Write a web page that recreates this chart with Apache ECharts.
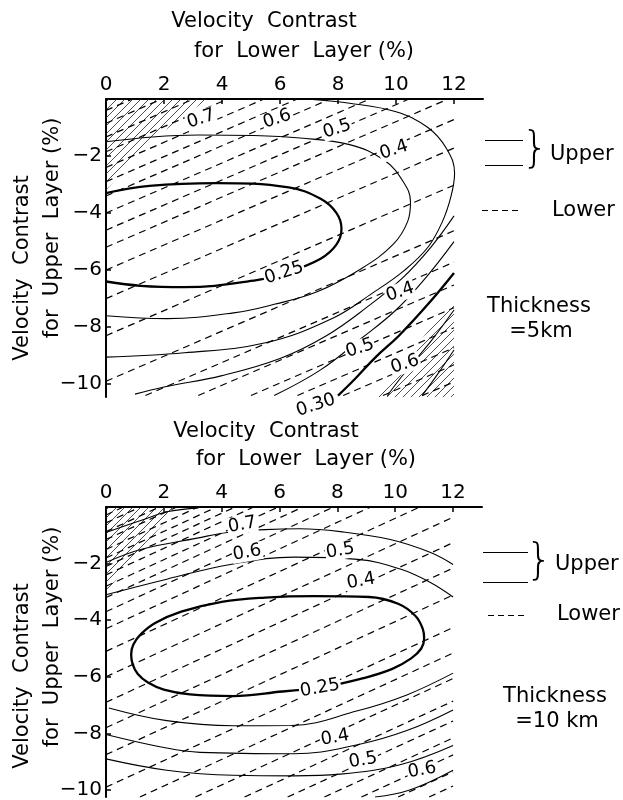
<!DOCTYPE html>
<html>
<head>
<meta charset="utf-8">
<script src="https://cdn.jsdelivr.net/npm/echarts@6/dist/echarts.min.js"></script>
<style>
  html, body { margin: 0; padding: 0; background: #fff; }
  #chart { width: 623px; height: 800px; }
</style>
</head>
<body>
<div id="chart"></div>
<script>
// tick labels
const xTicks = [0, 2, 4, 6, 8, 10, 12]
const yTicks = [-10, -8, -6, -4, -2]

// ---- thickness = 5 km ----
// upper layer contours (solid), thick one is 0.25
const upper5Thick = [[0, -3.3], [1.5, -3.05], [3.8, -2.95], [6.3, -3.1], [7.4, -3.5], [7.95, -4.0], [8.12, -4.55], [7.95, -5.1], [7.4, -5.6], [6.2, -6.1], [5.2, -6.35], [2.7, -6.6], [1.2, -6.55], [0, -6.4]]
const upper5Thick30 = [[12, -6.1], [11.1, -7.2], [10.1, -8.3], [9.3, -9.05], [8.6, -9.8], [8.0, -10.4]]
const upper5Thin = [
  [[0, -1.5], [1.6, -1.33], [3.2, -1.26], [5, -1.28], [6.7, -1.37], [8.4, -1.6], [9.6, -2.15], [10.25, -2.9], [10.5, -3.6], [10.4, -4.3], [9.9, -5.1], [8.8, -5.95], [7.3, -6.75], [5.8, -7.2], [4.4, -7.5], [2.1, -7.7], [0, -7.6]],
  [[6.9, 0], [8.4, -0.15], [10, -0.45], [11.1, -1.0], [11.75, -1.75], [12.02, -2.6], [11.9, -3.4], [11.6, -4.3], [11.1, -5.2], [10.3, -6.0], [9.2, -6.8], [7.8, -7.7], [5.5, -8.55], [2.7, -8.9], [0, -9.05]],
  [[12, -4.1], [11.2, -5.2], [10.2, -6.3], [9.0, -7.3], [7.6, -8.3], [6, -9.1], [4, -9.7], [2, -10.1], [1, -10.35]],
  [[12, -5.0], [11, -6.3], [10, -7.4], [8.8, -8.4], [7.4, -9.5], [5.8, -10.4]],
  [[12, -7.4], [11.2, -8.5], [10.3, -9.6], [9.7, -10.4]],
  [[12, -8.8], [11.4, -9.7], [10.9, -10.4]]
]
// lower layer contours (dashed)
const lower5 = [
  [[0, -0.4], [0.91, 0]], [[0, -0.85], [1.93, 0]], [[0, -1.33], [3.02, 0]], [[0, -1.85], [4.2, 0]],
  [[0, -2.4], [5.45, 0]], [[0, -2.9], [6.6, 0]], [[0, -3.4], [7.73, 0]], [[0, -4.0], [9.1, 0]],
  [[0, -4.6], [10.45, 0]], [[0, -5.2], [11.8, 0]], [[0, -6.0], [12, -0.72]], [[0, -7.0], [12, -1.72]],
  [[0, -8.3], [12, -3.02]], [[0, -9.9], [12, -4.62]], [[1.36, -10.4], [12, -5.72]], [[3.18, -10.4], [12, -6.52]],
  [[5.0, -10.4], [12, -7.32]], [[6.6, -10.4], [12, -8.02]], [[8.18, -10.4], [12, -8.72]], [[9.55, -10.4], [12, -9.32]],
  [[10.9, -10.4], [12, -9.92]]
]
const labels5 = [[3.28, -0.7, '0.7'], [5.9, -0.7, '0.6'], [7.97, -1.05, '0.5'], [9.93, -1.79, '0.4'], [6.14, -6.1, '0.25'], [10.14, -6.77, '0.4'], [8.76, -8.74, '0.5'], [10.31, -9.3, '0.6'], [7.24, -10.74, '0.30']]
const hatch5TopLeft = [[0, -3.2], [1.5, -1.5], [3.5, 0]]
const hatch5BottomRight = [[9.3, -10.45], [12, -7.0]]

// ---- thickness = 10 km ----
const upper10Thick = [[7.4, -6.4], [6.1, -6.52], [4.4, -6.68], [2.9, -6.62], [2.0, -6.45], [1.45, -6.2], [1.1, -5.9], [0.92, -5.55], [0.87, -5.2], [0.95, -4.85], [1.2, -4.5], [1.7, -4.1], [2.6, -3.7], [4, -3.35], [5.5, -3.2], [7.2, -3.15], [9.1, -3.18], [10.1, -3.42], [10.7, -3.85], [10.95, -4.3], [11.0, -4.65], [10.9, -5.0], [10.55, -5.35], [9.9, -5.72], [8.9, -6.05], [7.4, -6.4]]
const upper10Thin = [
  [[0, -0.9], [1.28, -0.45], [2.1, -0.17], [3.2, -0.03]],
  [[0, -1.96], [1.2, -1.5], [3.15, -1.1], [4.2, -0.9], [5.5, -0.8], [6.7, -0.77], [8.1, -0.87], [9.83, -1.15], [11.2, -1.6], [12, -2.03]],
  [[0, -3.1], [2.1, -2.55], [4.3, -2.03], [6.5, -1.77], [8.7, -1.85], [10.2, -2.2], [11.2, -2.66], [12, -3.18]],
  [[0.1, -7.1], [2.1, -7.55], [4.4, -7.73], [6.4, -7.72], [8.7, -7.2], [10.4, -6.64], [12, -5.87]],
  [[0, -8.04], [2.0, -8.5], [3.25, -8.67], [6.5, -8.72], [8.7, -8.4], [10.4, -7.9], [12, -7.17]],
  [[0, -8.9], [2.1, -9.3], [4.4, -9.48], [6.5, -9.5], [8.1, -9.44], [10.2, -9.1], [12, -8.43]],
  [[9.3, -10.25], [10.5, -10.0], [12, -9.3]]
]
const lower10 = [
  [[0, -0.28], [0.6, 0]], [[0, -0.56], [1.19, 0]], [[0, -0.87], [1.85, 0]], [[0, -1.15], [2.45, 0]],
  [[0, -1.5], [3.19, 0]], [[0, -1.8], [3.83, 0]], [[0, -2.1], [4.47, 0]], [[0, -2.4], [5.11, 0]],
  [[0, -2.8], [5.96, 0]], [[0, -3.2], [6.81, 0]], [[0, -3.7], [7.87, 0]], [[0, -4.3], [9.15, 0]],
  [[0, -5.1], [10.85, 0]], [[0, -6.0], [12, -0.36]], [[0, -6.9], [12, -1.26]], [[0, -7.8], [12, -2.16]],
  [[0, -8.75], [12, -3.11]], [[0, -9.9], [12, -4.26]], [[1.17, -10.25], [12, -5.16]], [[3.09, -10.25], [12, -6.06]],
  [[4.79, -10.25], [12, -6.86]], [[6.28, -10.25], [12, -7.56]], [[7.55, -10.25], [12, -8.16]], [[8.83, -10.25], [12, -8.76]],
  [[10.1, -10.25], [12, -9.36]], [[11.17, -10.25], [12, -9.86]]
]
const labels10 = [[4.71, -0.63, '0.7'], [4.88, -1.61, '0.6'], [8.1, -1.54, '0.5'], [8.82, -2.62, '0.4'], [7.4, -6.4, '0.25'], [7.92, -8.15, '0.4'], [8.89, -8.95, '0.5'], [10.93, -9.3, '0.6']]
const hatch10TopLeft = [[0, -3.0], [1.2, -1.5], [2.5, 0]]

const FONT = 'DejaVu Sans'

function hatchPattern() {
  const c = document.createElement('canvas')
  c.width = 8
  c.height = 8
  const ctx = c.getContext('2d')
  ctx.strokeStyle = '#222'
  ctx.lineWidth = 0.8
  ctx.beginPath()
  ctx.moveTo(0, 8); ctx.lineTo(8, 0)
  ctx.moveTo(-1, 1); ctx.lineTo(1, -1)
  ctx.moveTo(7, 9); ctx.lineTo(9, 7)
  ctx.stroke()
  return c
}
const pattern = { image: hatchPattern(), repeat: 'repeat' }

function line(data, gi, width, dashed, smooth) {
  return {
    type: 'line', xAxisIndex: gi, yAxisIndex: gi, data: data,
    symbol: 'none', smooth: smooth, silent: true, z: dashed ? 2 : 3,
    lineStyle: { color: '#000', width: width, type: dashed ? [7, 5] : 'solid' }
  }
}

function hatch(data, gi, origin) {
  return {
    type: 'line', xAxisIndex: gi, yAxisIndex: gi, data: data,
    symbol: 'none', silent: true, z: 1,
    lineStyle: { width: 0, opacity: 0 },
    areaStyle: { color: pattern, origin: origin, opacity: 1 }
  }
}

function labels(data, gi, rotate) {
  return {
    type: 'scatter', xAxisIndex: gi, yAxisIndex: gi, data: data,
    symbolSize: 0, silent: true, clip: false, z: 10,
    itemStyle: { opacity: 1 },
    label: {
      show: true, position: 'inside', rotate: rotate,
      formatter: p => p.data[2],
      color: '#000', fontFamily: FONT, fontSize: 18,
      backgroundColor: '#fff', padding: [0, 1]
    }
  }
}

function xAxis(gi) {
  return {
    type: 'value', gridIndex: gi, position: 'top', min: 0, max: 13,
    splitLine: { show: false },
    axisLine: { lineStyle: { color: '#000', width: 2 } },
    axisTick: { inside: true, length: 5, customValues: xTicks, lineStyle: { color: '#000', width: 1.5 } },
    axisLabel: { customValues: xTicks, color: '#000', fontFamily: FONT, fontSize: 20, margin: 4 }
  }
}

function yAxis(gi, min) {
  return {
    type: 'value', gridIndex: gi, min: min, max: 0,
    splitLine: { show: false },
    axisLine: { lineStyle: { color: '#000', width: 2 } },
    axisTick: { inside: true, length: 5, customValues: yTicks, lineStyle: { color: '#000', width: 1.5 } },
    axisLabel: { customValues: yTicks, color: '#000', fontFamily: FONT, fontSize: 20, margin: 4, formatter: v => '\u2212' + Math.abs(v) }
  }
}

function text(x, y, str, opts) {
  return Object.assign({
    type: 'text', x: x, y: y,
    style: Object.assign({ text: str, fill: '#000', font: '21px ' + FONT, textAlign: 'center', textVerticalAlign: 'middle' }, opts && opts.style)
  }, opts && opts.extra)
}

function hline(x1, x2, y, dashed) {
  return {
    type: 'line', shape: { x1: x1, y1: y + 0.5, x2: x2, y2: y + 0.5 },
    style: { stroke: '#000', lineWidth: 1, lineDash: dashed ? [6, 4] : null }
  }
}

const series = []
// 5 km
series.push(hatch(hatch5TopLeft, 0, 'end'))
series.push(hatch(hatch5BottomRight, 0, 'start'))
lower5.forEach(d => series.push(line(d, 0, 1.2, true, false)))
upper5Thin.forEach(d => series.push(line(d, 0, 1.1, false, 0.4)))
series.push(line(upper5Thick, 0, 2.3, false, 0.4))
series.push(line(upper5Thick30, 0, 2.3, false, 0.4))
series.push(labels(labels5, 0, 18))
// 10 km
series.push(hatch(hatch10TopLeft, 1, 'end'))
lower10.forEach(d => series.push(line(d, 1, 1.2, true, false)))
upper10Thin.forEach(d => series.push(line(d, 1, 1.1, false, 0.4)))
series.push(line(upper10Thick, 1, 2.3, false, 0.4))
series.push(labels(labels10, 1, 10))

const rot = { extra: { rotation: Math.PI / 2 } }
const brace = { style: { font: '200 42px ' + FONT } }
const left = { style: { textAlign: 'left' } }
const graphic = [
  // top panel titles
  text(264, 22, 'Velocity  Contrast'),
  text(304, 52, 'for  Lower  Layer (%)'),
  text(23, 268, 'Velocity  Contrast', rot),
  text(53, 228, 'for  Upper  Layer (%)', rot),
  // top legend
  hline(485, 523, 140, false),
  hline(485, 523, 165, false),
  text(535, 151, '}', brace),
  text(550, 155, 'Upper', left),
  hline(482, 522, 210, true),
  text(552, 211, 'Lower', left),
  text(539, 307, 'Thickness'),
  text(541, 332, '=5km'),
  // bottom panel titles
  text(266, 432, 'Velocity  Contrast'),
  text(306, 460, 'for  Lower  Layer (%)'),
  text(23, 676, 'Velocity  Contrast', rot),
  text(53, 637, 'for  Upper  Layer (%)', rot),
  // bottom legend
  hline(483, 528, 552, false),
  hline(483, 528, 582, false),
  text(539, 563, '}', brace),
  text(555, 565, 'Upper', left),
  hline(488, 528, 615, true),
  text(557, 615, 'Lower', left),
  text(555, 697, 'Thickness'),
  text(557, 722, '=10 km')
]

const chart = echarts.init(document.getElementById('chart'))
chart.setOption({
  backgroundColor: '#fff',
  animation: false,
  grid: [
    { left: 106, top: 99, width: 377, height: 298 },
    { left: 106, top: 507, width: 376, height: 293 }
  ],
  xAxis: [xAxis(0), xAxis(1)],
  yAxis: [yAxis(0, -10.45), yAxis(1, -10.25)],
  series: series,
  graphic: graphic
})
</script>
</body>
</html>
